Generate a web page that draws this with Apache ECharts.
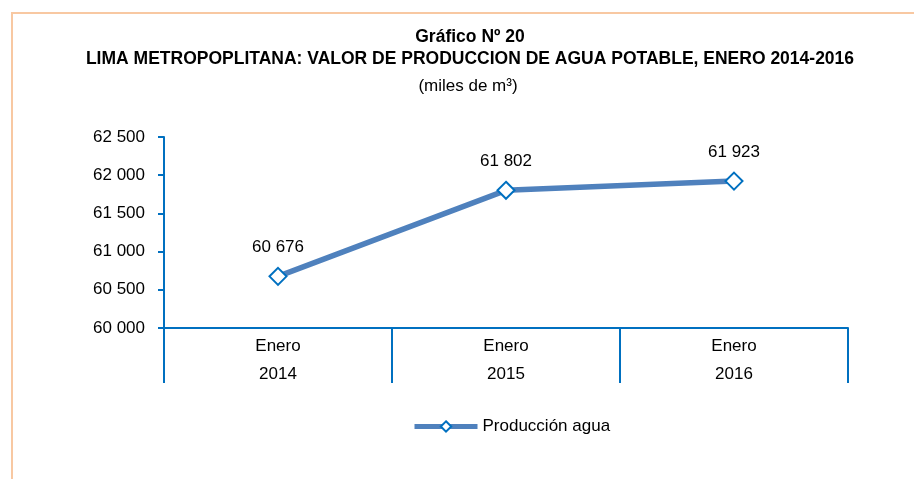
<!DOCTYPE html>
<html>
<head>
<meta charset="utf-8">
<script src="https://cdn.jsdelivr.net/npm/echarts@6/dist/echarts.min.js"></script>
<style>
  html, body { margin: 0; padding: 0; background: #fff; }
  #chart { width: 914px; height: 479px; }
</style>
</head>
<body>
<div id="chart"></div>
<script>
var categories = ['Enero\n2014', 'Enero\n2015', 'Enero\n2016'];
var produccion = [60676, 61802, 61923];
var seriesName = 'Producción agua';

function fmtMiles(v) {
    // thousands separated by a space, as in the source
    return String(v).replace(/\B(?=(\d{3})+(?!\d))/g, ' ');
}

var chart = echarts.init(document.getElementById('chart'));

chart.setOption({
    backgroundColor: '#fff',
    textStyle: { fontFamily: 'Liberation Sans, Arial, sans-serif' },
    graphic: [{
        type: 'rect',
        shape: { x: 12, y: 13, width: 1000, height: 1000 },
        style: { fill: 'none', stroke: '#F8C8A2', lineWidth: 2 },
        silent: true
    }, {
        type: 'text',
        x: 470,
        y: 28,
        style: {
            text: 'Gráfico Nº 20',
            textAlign: 'center',
            font: 'bold 17.5px "Liberation Sans", Arial, sans-serif',
            fill: '#000'
        }
    }, {
        type: 'text',
        x: 470,
        y: 50,
        style: {
            text: 'LIMA METROPOPLITANA: VALOR DE PRODUCCION DE AGUA POTABLE, ENERO 2014-2016',
            textAlign: 'center',
            font: 'bold 17.5px "Liberation Sans", Arial, sans-serif',
            fill: '#000'
        }
    }, {
        type: 'text',
        x: 468,
        y: 78,
        style: {
            text: '(miles de m³)',
            textAlign: 'center',
            font: '17px "Liberation Sans", Arial, sans-serif',
            fill: '#000'
        }
    }],
    legend: {
        top: 413,
        left: 407,
        itemWidth: 63,
        itemHeight: 13,
        itemGap: 4,
        textStyle: { fontSize: 17, color: '#000', fontFamily: 'Liberation Sans, Arial, sans-serif' },
        lineStyle: { width: 5, color: '#4F81BD' },
        data: [seriesName]
    },
    grid: { left: 164, right: 66, top: 137, bottom: 151 },
    xAxis: {
        type: 'category',
        data: categories,
        boundaryGap: true,
        axisLine: { lineStyle: { color: '#0070C0', width: 2 } },
        axisTick: { show: true, length: 55, lineStyle: { color: '#0070C0', width: 2 } },
        axisLabel: { color: '#000', fontSize: 17, lineHeight: 28, margin: 4 }
    },
    yAxis: {
        type: 'value',
        min: 60000,
        max: 62500,
        interval: 500,
        splitLine: { show: false },
        axisLine: { show: true, lineStyle: { color: '#0070C0', width: 2 } },
        axisTick: { show: true, length: 6, lineStyle: { color: '#0070C0', width: 2 } },
        axisLabel: { color: '#000', fontSize: 17, margin: 19, formatter: fmtMiles }
    },
    series: [{
        name: seriesName,
        type: 'line',
        data: produccion,
        symbol: 'diamond',
        symbolSize: 17,
        lineStyle: { color: '#4F81BD', width: 5.5 },
        itemStyle: { color: '#fff', borderColor: '#0070C0', borderWidth: 2 },
        label: {
            show: true,
            position: 'top',
            distance: 11,
            color: '#000',
            fontSize: 17,
            formatter: function (p) { return fmtMiles(p.value); }
        },
        emphasis: { disabled: true },
        animation: false
    }]
});
</script>
</body>
</html>
